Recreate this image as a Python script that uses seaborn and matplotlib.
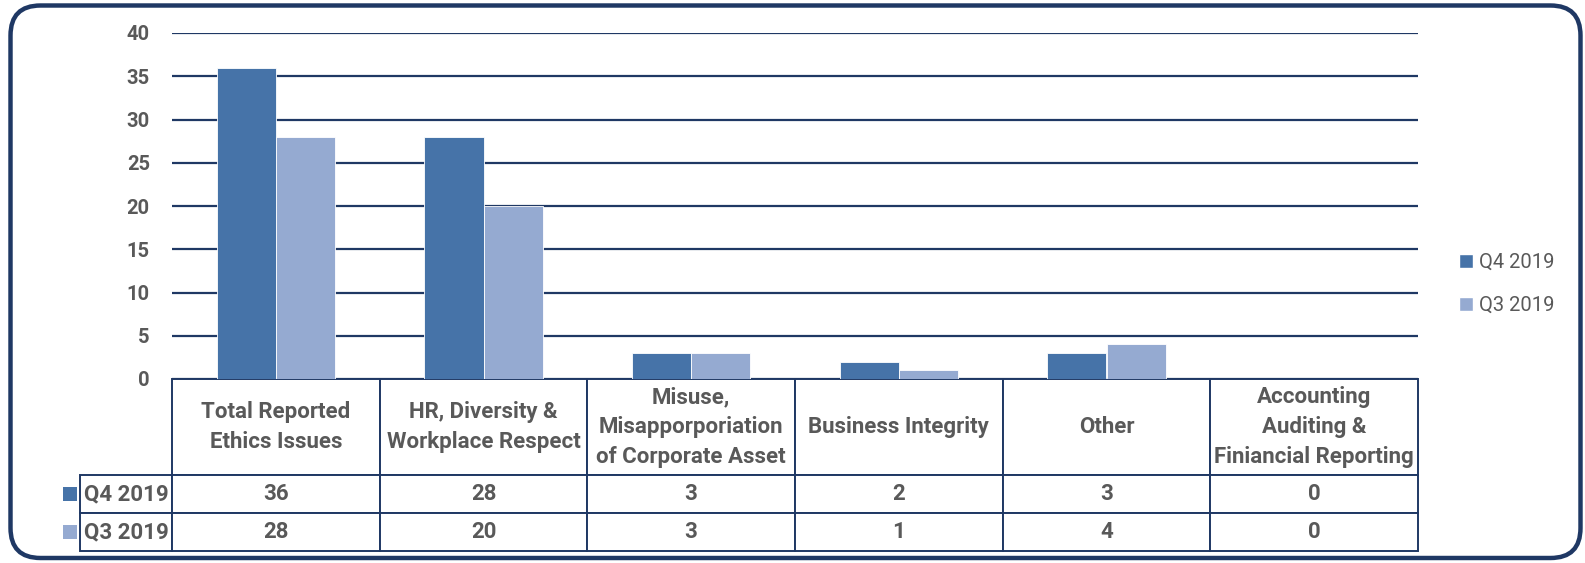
import numpy as np
import pandas as pd
import matplotlib.pyplot as plt
import seaborn as sns
from matplotlib.patches import FancyBboxPatch, Rectangle, Patch
from matplotlib.transforms import IdentityTransform

# data
categories = ['Total Reported\nEthics Issues', 'HR, Diversity &\nWorkplace Respect',
              'Misuse,\nMisapporporiation\nof Corporate Asset', 'Business Integrity',
              'Other', 'Accounting\nAuditing &\nFiniancial Reporting']
series = ['Q4 2019', 'Q3 2019']
q4_2019 = [36, 28, 3, 2, 3, 0]
q3_2019 = [28, 20, 3, 1, 4, 0]

colors = ['#4673a8', '#95aad1']
navy = '#1f3864'
gray = '#595959'

sns.set_style('white')
plt.rcParams['font.family'] = ['Roboto', 'DejaVu Sans']

df = pd.DataFrame({
    'category': categories * 2,
    'series': [series[0]] * 6 + [series[1]] * 6,
    'value': q4_2019 + q3_2019,
})

W, H = 1585, 563
fig = plt.figure(figsize=(W / 100, H / 100), dpi=100)
ax = fig.add_axes([172 / W, 1 - 379 / H, (1418 - 172) / W, (379 - 33) / H])

sns.barplot(data=df, x='category', y='value', hue='series', palette=colors,
            width=0.57, gap=0, saturation=1, edgecolor='white', linewidth=0.6,
            legend=False, ax=ax)

ax.set_ylim(0, 40)
ax.set_xlim(-0.5, 5.5)
ax.set_yticks(np.arange(0, 41, 5))
ax.tick_params(axis='y', length=0, pad=16, labelsize=14.5, labelcolor=gray)
for t in ax.get_yticklabels():
    t.set_fontweight('bold')
ax.set_xticks([])
ax.set_xlabel('')
ax.set_ylabel('')
ax.yaxis.grid(True, color=navy, linewidth=1.6)
ax.set_axisbelow(True)
for s in ax.spines.values():
    s.set_visible(False)

# data table under the chart (bbox covers the data columns, row labels hang left)
cell_text = [[str(v) for v in q4_2019], [str(v) for v in q3_2019]]
ax_w = 1418 - 172
ax_h = 379 - 33
tab_h = (551 - 379) / ax_h
table = ax.table(cellText=cell_text, rowLabels=series, colLabels=categories,
                 cellLoc='center', rowLoc='right', colLoc='center',
                 bbox=[0, -tab_h, 1, tab_h])
table.auto_set_font_size(False)
for (r, c), cell in table.get_celld().items():
    cell.set_edgecolor(navy)
    cell.set_linewidth(1.4)
    txt = cell.get_text()
    txt.set_fontsize(16)
    txt.set_fontweight('bold')
    txt.set_color(gray)
    txt.set_linespacing(1.45)
    cell.set_height((96 if r == 0 else 38) / ax_h)
    cell.set_width(114 / ax_w if c == -1 else 1 / 6)
    if c == -1:
        cell.PAD = 0.04

# colour keys in the row label cells
for i, yc in enumerate([494, 532]):
    fig.patches.append(Rectangle((63, H - yc - 7), 14, 14, facecolor=colors[i],
                                 edgecolor='none', transform=IdentityTransform(),
                                 figure=fig))

# legend
handles = [Patch(facecolor=colors[i], label=series[i]) for i in range(2)]
fig.legend(handles=handles, loc='center left', bbox_to_anchor=(1451 / W, 1 - 284 / H),
           frameon=False, fontsize=14.5, labelcolor=gray, handlelength=0.7,
           handleheight=0.7, handletextpad=0.3, labelspacing=1.2, borderaxespad=0)

# rounded outer border
border = FancyBboxPatch((10.5, H - 558), 1570, 552.5,
                        boxstyle='round,pad=0,rounding_size=30',
                        facecolor='none', edgecolor=navy, linewidth=3.2,
                        transform=IdentityTransform(), figure=fig)
fig.patches.append(border)

fig.savefig('out.png', dpi=100)
